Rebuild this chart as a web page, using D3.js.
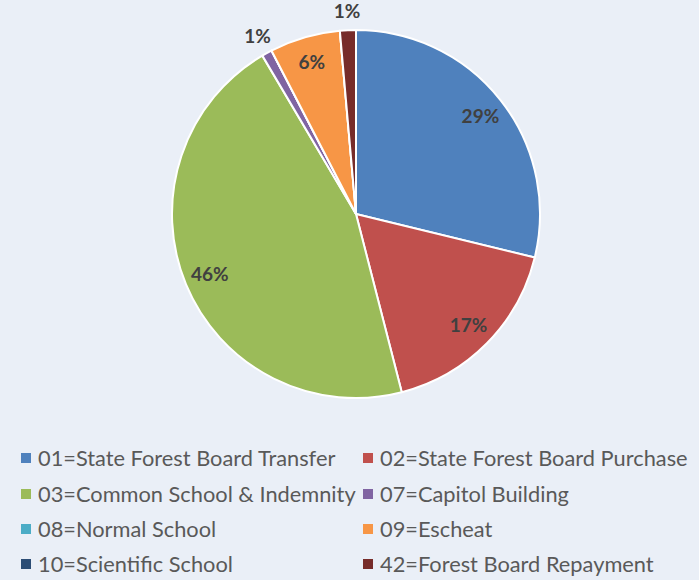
<!DOCTYPE html>
<html lang="en">
<head>
<meta charset="UTF-8">
<title>pie</title>
<style>
  body { margin: 0; background: #eaeff7; }
  svg { display: block; }
  .lbl { font-family: Lato, "Open Sans", sans-serif; font-weight: bold; font-size: 19px; fill: #404040; }
  .leg text { font-family: Lato, "Noto Sans", sans-serif; font-size: 21.8px; fill: #595959; }
</style>
</head>
<body>
<div id="chart"></div>
<script src="https://d3js.org/d3.v7.min.js"></script>
<script>
// data
var categories = ["01=State Forest Board Transfer", "02=State Forest Board Purchase",
                  "03=Common School & Indemnity", "07=Capitol Building",
                  "08=Normal School", "09=Escheat",
                  "10=Scientific School", "42=Forest Board Repayment"];
var shares = [28.8, 17.2, 45.5, 0.9, 0, 6.2, 0, 1.4];
var labels = ["29%", "17%", "46%", "1%", "", "6%", "", "1%"];
var colors = ["#4f81bd", "#c0504d", "#9bbb59", "#8064a2", "#4bacc6", "#f79646", "#2c4d75", "#772c2a"];

var width = 699, height = 580;
var cx = 356, cy = 214, radius = 184;

var svg = d3.select("#chart").append("svg")
    .attr("width", width).attr("height", height);

var pie = d3.pie().sort(null).value(function(d){ return d; });
var arcs = pie(shares);

var arc = d3.arc().innerRadius(0).outerRadius(radius);
var inArc = d3.arc().innerRadius(radius * 0.86).outerRadius(radius * 0.86);
var outArc = d3.arc().innerRadius(radius + 19).outerRadius(radius + 19);

var g = svg.append("g").attr("transform", "translate(" + cx + "," + cy + ")");

g.selectAll("path").data(arcs).enter().append("path")
  .attr("d", arc)
  .attr("fill", function(d, i){ return colors[i]; })
  .attr("stroke", "#fff")
  .attr("stroke-width", 2)
  .attr("stroke-linejoin", "round");

// small slices get their label outside
g.selectAll("text.lbl").data(arcs).enter().append("text")
  .attr("class", "lbl")
  .attr("text-anchor", "middle")
  .attr("dy", "0.35em")
  .attr("transform", function(d){
    var c = (d.data < 3 ? outArc : inArc).centroid(d);
    return "translate(" + c + ")";
  })
  .text(function(d, i){ return labels[i]; });

// legend, two columns
var colX = [21, 363], rowY = [458, 494, 529, 564];
var leg = svg.append("g").attr("class", "leg");
var item = leg.selectAll("g").data(categories).enter().append("g")
  .attr("transform", function(d, i){ return "translate(" + colX[i % 2] + "," + rowY[Math.floor(i / 2)] + ")"; });
item.append("rect")
  .attr("x", 0).attr("y", -5).attr("width", 10).attr("height", 10)
  .attr("fill", function(d, i){ return colors[i]; });
item.append("text")
  .attr("x", 17).attr("dy", "0.35em")
  .text(function(d){ return d; });
</script>
</body>
</html>
